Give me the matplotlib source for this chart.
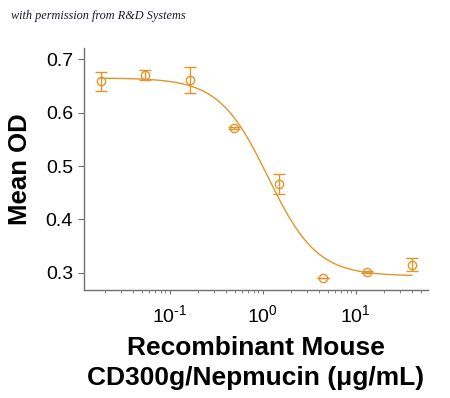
import numpy as np
import matplotlib
matplotlib.use("Agg")
import matplotlib.pyplot as plt
from matplotlib.ticker import LogLocator, FixedLocator, FixedFormatter, NullFormatter

plt.rcParams['font.family'] = ['Liberation Sans', 'DejaVu Sans']
plt.rcParams['mathtext.fontset'] = 'custom'
plt.rcParams['mathtext.rm'] = 'Liberation Sans'
plt.rcParams['mathtext.default'] = 'regular'

# Data
conc = [0.0183, 0.0549, 0.165, 0.494, 1.48, 4.44, 13.3, 40.0]
mean_od = [0.659, 0.670, 0.661, 0.572, 0.466, 0.291, 0.301, 0.315]
sem = [0.018, 0.0095, 0.025, 0.002, 0.019, 0.0, 0.002, 0.012]

# 4-parameter logistic fit parameters
fit_top = 0.665
fit_bottom = 0.294
fit_ec50 = 1.14
fit_hill = 1.65

y_ticks = [0.3, 0.4, 0.5, 0.6, 0.7]
y_tick_labels = ["0.3", "0.4", "0.5", "0.6", "0.7"]
x_ticks = [0.1, 1, 10]
x_tick_labels = [r"$10^{\text{-}1}$", r"$10^{0}$", r"$10^{1}$"]

color = '#E0962B'
axis_color = '#707070'

fig = plt.figure(figsize=(4.5, 3.98), dpi=100)
ax = fig.add_axes([84/450, 1-290/398, (427.7-84)/450, (290-48)/398])

xs = np.geomspace(min(conc), max(conc), 300)
ys = fit_bottom + (fit_top - fit_bottom) / (1 + (xs / fit_ec50) ** fit_hill)
ax.plot(xs, ys, color=color, lw=1.0, zorder=2)

ax.errorbar(conc, mean_od, yerr=sem, fmt='o', mfc='none', mec=color, ecolor=color,
            ms=6, mew=1.0, elinewidth=1.0, capsize=4, capthick=1.0, zorder=3)

ax.set_xscale('log')
ax.set_xlim(0.01199, 59.4)
ax.set_ylim(0.2676, 0.7212)

ax.xaxis.set_major_locator(FixedLocator(x_ticks))
ax.xaxis.set_major_formatter(FixedFormatter(x_tick_labels))
ax.xaxis.set_minor_locator(LogLocator(base=10, subs=np.arange(2, 10)))
ax.xaxis.set_minor_formatter(NullFormatter())
ax.yaxis.set_major_locator(FixedLocator(y_ticks))
ax.yaxis.set_major_formatter(FixedFormatter(y_tick_labels))

for s in ['top', 'right']:
    ax.spines[s].set_visible(False)
for s in ['left', 'bottom']:
    ax.spines[s].set_color(axis_color)
    ax.spines[s].set_linewidth(1.0)

ax.tick_params(axis='y', which='major', direction='out', length=4, width=0.8,
               color=axis_color, labelsize=14, pad=4)
ax.tick_params(axis='x', which='major', direction='out', length=3, width=0.8,
               color=axis_color, labelsize=14, pad=7)
ax.tick_params(axis='x', which='minor', direction='out', length=2, width=0.6,
               color=axis_color)

ax.set_ylabel('Mean OD', fontsize=18.5, fontweight='bold', labelpad=10)
ax.set_xlabel('Recombinant Mouse\nCD300g/Nepmucin (μg/mL)', fontsize=19,
              fontweight='bold', linespacing=1.32, labelpad=7)

fig.text(11/450, 1-16/398, 'with permission from R&D Systems', fontsize=8.8,
         family='Liberation Serif', style='italic', va='center', ha='left',
         color='#1a1a2a')

fig.savefig('out.png', dpi=100)
